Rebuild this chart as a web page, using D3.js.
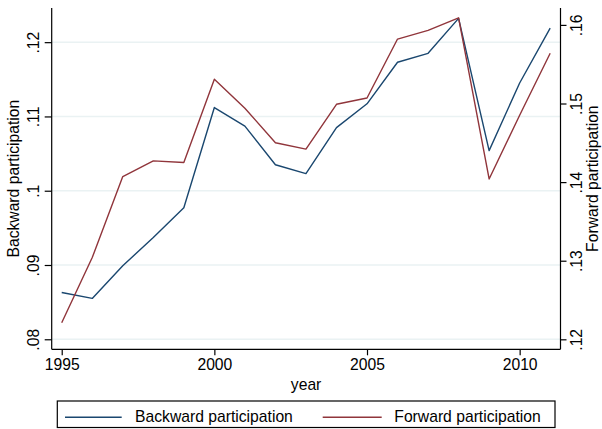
<!DOCTYPE html>
<html>
<head>
<meta charset="utf-8">
<script src="https://cdn.jsdelivr.net/npm/d3@7"></script>
<style>
  html, body { margin: 0; padding: 0; background: #fff; }
  svg { display: block; font-family: "Liberation Sans", Arial, sans-serif; }
</style>
</head>
<body>
<svg id="chart" width="602" height="429"></svg>
<script>
const years = [1995,1996,1997,1998,1999,2000,2001,2002,2003,2004,2005,2006,2007,2008,2009,2010,2011];
const backward = [0.0863,0.0855,0.0899,0.0937,0.0977,0.1112,0.1087,0.1035,0.1023,0.1085,0.1117,0.1173,0.1185,0.1232,0.1054,0.1145,0.1219];
const forward  = [0.1221,0.1304,0.1407,0.1427,0.1425,0.1531,0.1494,0.1450,0.1442,0.1499,0.1507,0.1582,0.1593,0.1609,0.1404,0.1485,0.1564];
const xTicks = [1995,2000,2005,2010];
const leftTicks = [0.08,0.09,0.10,0.11,0.12];
const leftTickLabels = [".08",".09",".1",".11",".12"];
const rightTicks = [0.12,0.13,0.14,0.15,0.16];
const rightTickLabels = [".12",".13",".14",".15",".16"];
const seriesNames = ["Backward participation","Forward participation"];
const colors = ["#1a476f","#90353b"];

const svg = d3.select("#chart");
const L = 51.7, R = 560.5, T = 8, B = 349.3;
const FS = 15.7;

const x = d3.scaleLinear().domain([1994.672, 2011.338]).range([L, R]);
const yL = d3.scaleLinear().domain([0.07865, 0.1246]).range([B, T]);
const yR = d3.scaleLinear().domain([0.11873, 0.16215]).range([B, T]);

// gridlines (left axis)
svg.append("g").selectAll("line").data(leftTicks).join("line")
  .attr("x1", L).attr("x2", R)
  .attr("y1", d => yL(d)).attr("y2", d => yL(d))
  .attr("stroke", "#eaf2f3").attr("stroke-width", 1.5);

// lines
const lineL = d3.line().x((d,i) => x(years[i])).y(d => yL(d));
const lineR = d3.line().x((d,i) => x(years[i])).y(d => yR(d));
svg.append("path").datum(backward).attr("d", lineL)
  .attr("fill","none").attr("stroke",colors[0]).attr("stroke-width",1.4).attr("stroke-linejoin","round");
svg.append("path").datum(forward).attr("d", lineR)
  .attr("fill","none").attr("stroke",colors[1]).attr("stroke-width",1.4).attr("stroke-linejoin","round");

function styleAxis(g) {
  g.select(".domain").attr("stroke","#000").attr("stroke-width",1.2);
  g.selectAll(".tick line").attr("stroke","#000").attr("stroke-width",1.2);
  g.selectAll(".tick text").attr("fill","#000").style("font-size", FS + "px");
}

// left axis
const gL = svg.append("g").attr("transform", `translate(${L},0)`)
  .call(d3.axisLeft(yL).tickValues(leftTicks).tickSizeInner(7).tickSizeOuter(0)
    .tickFormat((d,i) => leftTickLabels[i]));
styleAxis(gL);
gL.select(".domain").attr("d", `M0,${T}V${B}`);
gL.selectAll(".tick text").attr("transform","rotate(-90)")
  .attr("x",0).attr("y",-13.2).attr("dy",0).attr("text-anchor","middle");

// right axis
const gR = svg.append("g").attr("transform", `translate(${R},0)`)
  .call(d3.axisRight(yR).tickValues(rightTicks).tickSizeInner(6).tickSizeOuter(0)
    .tickFormat((d,i) => rightTickLabels[i]));
styleAxis(gR);
gR.select(".domain").attr("d", `M0,${T}V${B}`);
gR.selectAll(".tick text").attr("transform","rotate(-90)")
  .attr("x",0).attr("y",21.2).attr("dy",0).attr("text-anchor","middle");

// bottom axis
const gB = svg.append("g").attr("transform", `translate(0,${B})`)
  .call(d3.axisBottom(x).tickValues(xTicks).tickSizeInner(6).tickSizeOuter(0)
    .tickFormat(d3.format("d")));
styleAxis(gB);
gB.select(".domain").attr("d", `M${L},0H${R}`);
gB.selectAll(".tick text").attr("y",20.7).attr("dy",0);

// axis titles
svg.append("text").attr("transform", `translate(18.5,${(T+B)/2}) rotate(-90)`)
  .attr("text-anchor","middle").style("font-size",FS+"px").attr("fill","#000")
  .text("Backward participation");
svg.append("text").attr("transform", `translate(597.5,${(T+B)/2}) rotate(-90)`)
  .attr("text-anchor","middle").style("font-size",FS+"px").attr("fill","#000")
  .text("Forward participation");
svg.append("text").attr("x",(L+R)/2).attr("y",390)
  .attr("text-anchor","middle").style("font-size",FS+"px").attr("fill","#000")
  .text("year");

// legend
const lg = svg.append("g");
lg.append("rect").attr("x",57.3).attr("y",401).attr("width",555-57.3).attr("height",26.5)
  .attr("fill","#fff").attr("stroke","#000").attr("stroke-width",1.2);
const legendItems = [
  {name: seriesNames[0], color: colors[0], x1: 65, x2: 121.7, tx: 135},
  {name: seriesNames[1], color: colors[1], x1: 322.7, x2: 381.7, tx: 394.3}
];
legendItems.forEach(it => {
  lg.append("line").attr("x1",it.x1).attr("x2",it.x2).attr("y1",417.3).attr("y2",417.3)
    .attr("stroke",it.color).attr("stroke-width",1.4);
  lg.append("text").attr("x",it.tx).attr("y",422.2).style("font-size",FS+"px").attr("fill","#000")
    .text(it.name);
});
</script>
</body>
</html>
